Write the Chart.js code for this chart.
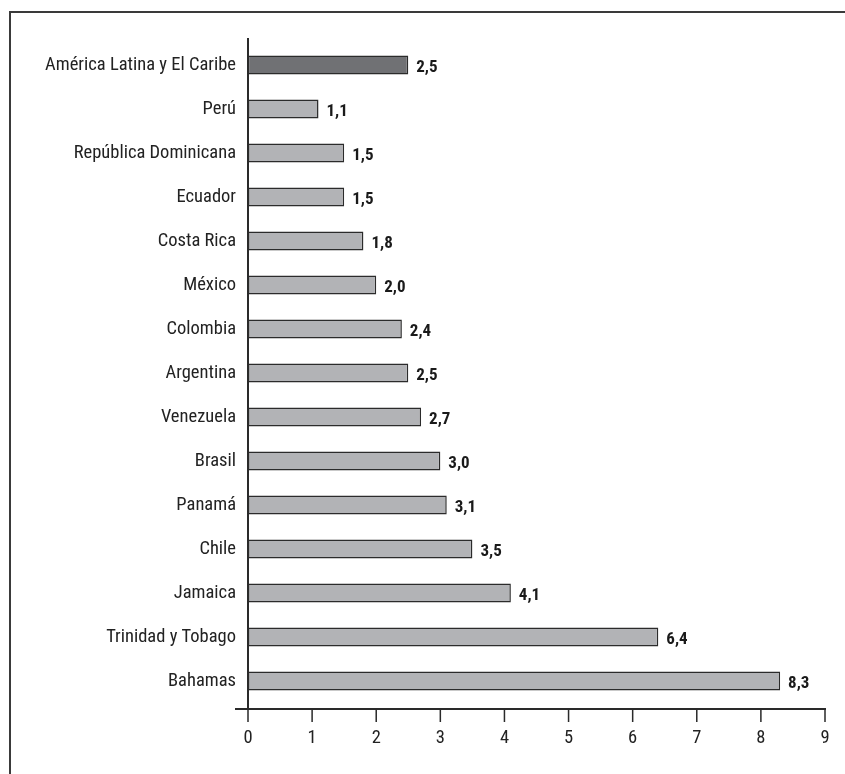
<!DOCTYPE html>
<html>
<head>
<meta charset="utf-8">
<script src="https://cdn.jsdelivr.net/npm/chart.js@4.4.1/dist/chart.umd.min.js"></script>
<style>
  html, body { margin: 0; padding: 0; background: #fff; overflow: hidden; }
  #wrap { position: relative; width: 845px; height: 774px; }
  #frame {
    position: absolute; left: 9px; top: 11px; width: 860px; height: 800px;
    border: 2px solid #3a3a3a; box-sizing: border-box;
  }
  #chart { position: absolute; left: 0; top: 0; }
</style>
</head>
<body>
<div id="wrap">
  <div id="frame"></div>
  <canvas id="chart" width="845" height="774"></canvas>
</div>
<script>
const countries = [
    "América Latina y El Caribe", "Perú", "República Dominicana", "Ecuador",
    "Costa Rica", "México", "Colombia", "Argentina", "Venezuela", "Brasil",
    "Panamá", "Chile", "Jamaica", "Trinidad y Tobago", "Bahamas"
];
const values = [2.5, 1.1, 1.5, 1.5, 1.8, 2.0, 2.4, 2.5, 2.7, 3.0, 3.1, 3.5, 4.1, 6.4, 8.3];
const xMin = 0;
const xMax = 9;

const FONT = "'Roboto Condensed', Roboto, 'Liberation Sans', sans-serif";

// Format numbers with a decimal comma
function fmt(v) {
    return v.toFixed(1).replace(".", ",");
}

// Axis lines and tick marks sit slightly below the bar area
const axisLines = {
    id: "axisLines",
    afterDraw(chart) {
        const ctx = chart.ctx;
        const xs = chart.scales.x;
        const area = chart.chartArea;
        const x0 = xs.getPixelForValue(xMin);
        const xEnd = xs.getPixelForValue(xMax);
        const axisY = area.bottom + 6;

        ctx.save();
        ctx.strokeStyle = "#2a2a2a";
        ctx.lineWidth = 2;
        ctx.beginPath();
        ctx.moveTo(x0, area.top - 5);
        ctx.lineTo(x0, axisY);
        ctx.moveTo(x0 - 13, axisY);
        ctx.lineTo(xEnd + 1, axisY);
        ctx.stroke();

        ctx.lineWidth = 1.5;
        ctx.beginPath();
        xs.ticks.forEach((t) => {
            const x = xs.getPixelForValue(t.value);
            ctx.moveTo(x, axisY);
            ctx.lineTo(x, axisY + 13);
        });
        ctx.stroke();
        ctx.restore();
    }
};

// Value labels at the end of every bar
const barLabels = {
    id: "barLabels",
    afterDatasetsDraw(chart) {
        const ctx = chart.ctx;
        const meta = chart.getDatasetMeta(0);
        ctx.save();
        ctx.font = "bold 17px " + FONT;
        ctx.fillStyle = "#1a1a1a";
        ctx.textAlign = "left";
        ctx.textBaseline = "middle";
        meta.data.forEach((bar, i) => {
            ctx.fillText(fmt(values[i]), bar.x + 8, bar.y + 3);
        });
        ctx.restore();
    }
};

new Chart(document.getElementById("chart"), {
    type: "bar",
    data: {
        labels: countries,
        datasets: [{
            data: values,
            backgroundColor: (c) => c.dataIndex === 0 ? "#707174" : "#b2b3b6",
            borderColor: "#2b2b2b",
            borderWidth: 1.5,
            borderSkipped: false,
            barPercentage: 0.43,
            categoryPercentage: 1
        }]
    },
    options: {
        indexAxis: "y",
        responsive: false,
        animation: false,
        devicePixelRatio: 1,
        layout: { padding: { top: 43, right: 20, left: 0, bottom: 0 } },
        plugins: {
            legend: { display: false },
            tooltip: { enabled: false }
        },
        scales: {
            y: {
                offset: true,
                grid: { display: false, drawTicks: false },
                border: { display: false },
                ticks: {
                    color: "#222",
                    padding: 12,
                    font: { family: FONT, size: 18.5 }
                },
                afterFit: (s) => { s.width = 248; }
            },
            x: {
                min: xMin,
                max: xMax,
                grid: { display: false, drawTicks: false },
                border: { display: false },
                ticks: {
                    stepSize: 1,
                    color: "#222",
                    padding: 24,
                    font: { family: FONT, size: 18.5 },
                    callback: (v) => String(v)
                },
                afterFit: (s) => {
                    s.height = 71;
                    // tick padding would otherwise widen the side margins
                    s.paddingLeft = 0;
                    s.paddingRight = 0;
                }
            }
        }
    },
    plugins: [axisLines, barLabels]
});
</script>
</body>
</html>
